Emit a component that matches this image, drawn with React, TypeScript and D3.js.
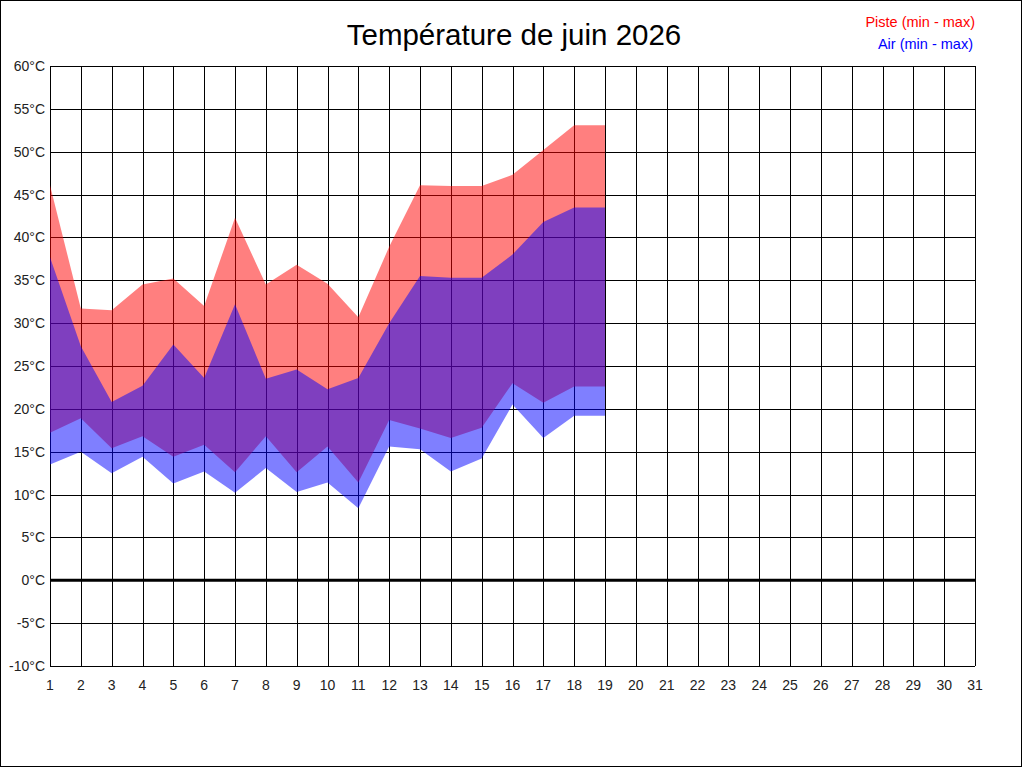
import { useEffect, useRef } from 'react';
import * as d3 from 'd3';

const days = d3.range(1, 32);
const dataDays = d3.range(1, 20);
const pisteMax = [46.1, 31.7, 31.5, 34.5, 35.2, 32.0, 42.3, 34.5, 36.8, 34.6, 30.7, 38.9, 46.1, 46.0, 46.0, 47.3, 50.2, 53.1, 53.1];
const pisteMin = [17.2, 18.9, 15.4, 16.8, 14.4, 15.8, 12.6, 16.8, 12.6, 15.6, 11.4, 18.7, 17.7, 16.6, 17.8, 23.0, 20.7, 22.6, 22.6];
const airMax = [37.7, 27.3, 20.8, 22.7, 27.5, 23.6, 32.2, 23.5, 24.6, 22.3, 23.6, 30.0, 35.5, 35.3, 35.3, 38.0, 41.8, 43.5, 43.5];
const airMin = [13.5, 15.0, 12.5, 14.4, 11.3, 12.7, 10.2, 13.1, 10.3, 11.4, 8.4, 15.6, 15.3, 12.7, 14.2, 20.5, 16.6, 19.2, 19.2];
const yTicks = d3.range(-10, 61, 5);

export default function App() {
  const svgRef = useRef<SVGSVGElement>(null);
  const width = 1024;
  const height = 768;
  const margin = { top: 66, right: 49, bottom: 102, left: 50 };

  useEffect(() => {
    if (!svgRef.current) return;
    document.body.style.margin = '0';
    const svg = d3.select(svgRef.current);
    svg.selectAll('*').remove();
    const font = '"Liberation Sans", Arial, sans-serif';

    const x = d3.scaleLinear().domain([1, 31]).range([margin.left, width - margin.right]);
    const y = d3.scaleLinear().domain([-10, 60]).range([height - margin.bottom, margin.top]);

    svg.append('rect')
      .attr('x', 0).attr('y', 0).attr('width', width).attr('height', height)
      .attr('fill', '#fff');
    svg.append('rect')
      .attr('x', 0.5).attr('y', 0.5).attr('width', 1021).attr('height', 766)
      .attr('fill', 'none').attr('stroke', '#000');

    // grid
    const grid = svg.append('g').attr('stroke', '#000').attr('stroke-width', 1).attr('shape-rendering', 'crispEdges');
    days.forEach((d) => {
      grid.append('line')
        .attr('x1', Math.round(x(d)) + 0.5).attr('x2', Math.round(x(d)) + 0.5)
        .attr('y1', y(60)).attr('y2', y(-10));
    });
    yTicks.forEach((t) => {
      grid.append('line')
        .attr('x1', x(1)).attr('x2', x(31))
        .attr('y1', Math.round(y(t)) + 0.5).attr('y2', Math.round(y(t)) + 0.5);
    });

    // areas: piste first, air drawn over it
    const idx = dataDays.map((_, i) => i);
    const area = (lo: number[], hi: number[]) => d3.area<number>()
      .x((i) => x(dataDays[i]))
      .y0((i) => y(lo[i]))
      .y1((i) => y(hi[i]));

    svg.append('path')
      .datum(idx)
      .attr('fill', 'rgba(255,0,0,0.5)')
      .attr('d', area(pisteMin, pisteMax));
    svg.append('path')
      .datum(idx)
      .attr('fill', 'rgba(0,0,255,0.5)')
      .attr('d', area(airMin, airMax));

    // zero line
    svg.append('line')
      .attr('x1', x(1)).attr('x2', x(31))
      .attr('y1', y(0)).attr('y2', y(0))
      .attr('stroke', '#000').attr('stroke-width', 3);

    // labels
    yTicks.forEach((t) => {
      svg.append('text')
        .attr('x', 45).attr('y', y(t) + 5)
        .attr('text-anchor', 'end')
        .style('font-family', font).style('font-size', '14px').style('fill', '#222')
        .text(`${t}°C`);
    });
    days.forEach((d) => {
      svg.append('text')
        .attr('x', x(d)).attr('y', 690)
        .attr('text-anchor', 'middle')
        .style('font-family', font).style('font-size', '14px').style('fill', '#222')
        .text(d);
    });

    svg.append('text')
      .attr('x', 514).attr('y', 45)
      .attr('text-anchor', 'middle')
      .style('font-family', font).style('font-size', '29.5px').style('fill', '#000')
      .text('Température de juin 2026');

    svg.append('text')
      .attr('x', 975).attr('y', 27)
      .attr('text-anchor', 'end')
      .style('font-family', font).style('font-size', '14.5px').style('fill', '#ff0000')
      .text('Piste (min - max)');
    svg.append('text')
      .attr('x', 973).attr('y', 49)
      .attr('text-anchor', 'end')
      .style('font-family', font).style('font-size', '14.5px').style('fill', '#0000ff')
      .text('Air (min - max)');
  }, []);

  return (
    <div style={{ position: 'absolute', left: 0, top: 0 }}>
      <svg ref={svgRef} width={width} height={height} />
    </div>
  );
}
